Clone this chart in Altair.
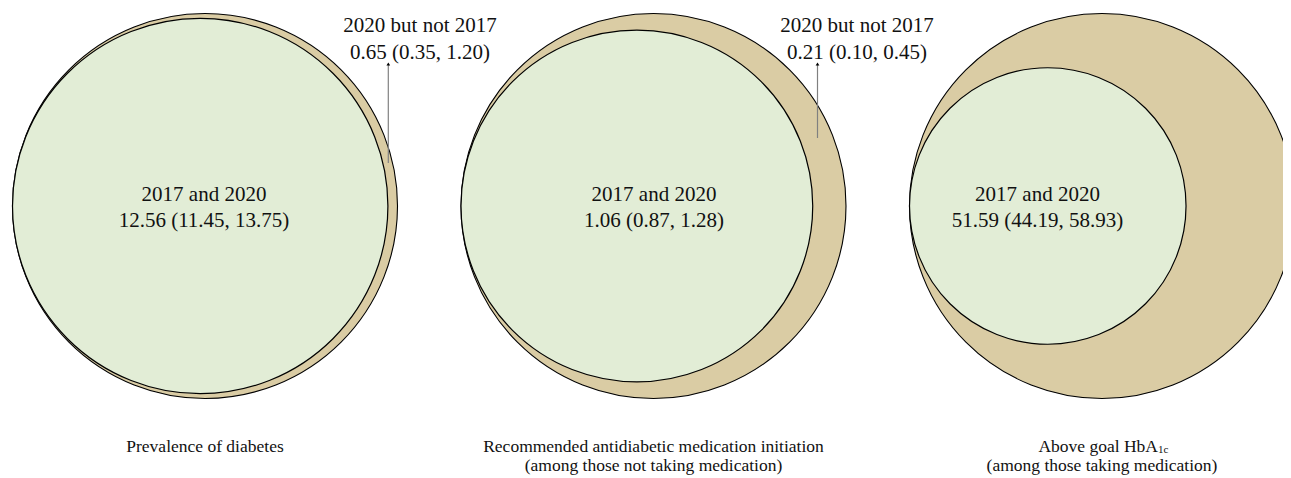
import math
import altair as alt
import pandas as pd

# ---------------- data ----------------
panel_line1 = ["Prevalence of diabetes",
               "Recommended antidiabetic medication initiation",
               "Above goal HbA"]
panel_line2 = ["", "(among those not taking medication)", "(among those taking medication)"]
panel_sub = ["", "", "1c"]

both_label = ["2017 and 2020", "2017 and 2020", "2017 and 2020"]
both_values = [12.56, 1.06, 51.59]
both_ci = ["(11.45, 13.75)", "(0.87, 1.28)", "(44.19, 58.93)"]

only_label = ["2020 but not 2017", "2020 but not 2017"]
only_values = [0.65, 0.21]
only_ci = ["(0.35, 1.20)", "(0.10, 0.45)"]

outer_totals = [13.21, 1.27, 100.00]

# ---------------- layout (page pixels) ----------------
CX0 = 205.0
SP = 448.5
CY = 206.0
R = 192.5
TAN = "#dacca4"
GREEN = "#e2edd6"
FONT = "Liberation Serif"
INK = "#111111"

center_dx = [-1.0, 0.5, -64.5]
only_dx = [215.0, 203.5]
arrow_dx = [183.3, 164.0]
arrow_bottom = [163.0, 138.0]
LINE1_Y, LINE2_Y = 452.0, 471.0

n = len(both_values)
outer_df = pd.DataFrame({
    "x": [CX0 + i * SP for i in range(n)],
    "y": [CY] * n,
    "share": [1.0] * n,
})
share = [b / t for b, t in zip(both_values, outer_totals)]
inner_df = pd.DataFrame({
    "x": [CX0 + i * SP - R + R * math.sqrt(s) for i, s in enumerate(share)],
    "y": [CY] * n,
    "share": share,
})

big_rows = []
for i in range(n):
    x = CX0 + i * SP + center_dx[i]
    big_rows.append({"x": x, "y": 200.7, "text": both_label[i]})
    big_rows.append({"x": x, "y": 226.7, "text": f"{both_values[i]:.2f} {both_ci[i]}"})
for i in range(len(only_values)):
    x = CX0 + i * SP + only_dx[i]
    big_rows.append({"x": x, "y": 32.3, "text": only_label[i]})
    big_rows.append({"x": x, "y": 59.0, "text": f"{only_values[i]:.2f} {only_ci[i]}"})
big_df = pd.DataFrame(big_rows)

small_rows = []
sub_rows = []
for i in range(n):
    x = CX0 + i * SP
    if panel_sub[i]:
        small_rows.append({"x": x + 56.0, "y": LINE1_Y, "text": panel_line1[i], "align": "right"})
        sub_rows.append({"x": x + 56.0, "y": LINE1_Y + 0.7, "text": panel_sub[i]})
    else:
        small_rows.append({"x": x, "y": LINE1_Y, "text": panel_line1[i], "align": "center"})
    if panel_line2[i]:
        small_rows.append({"x": x, "y": LINE2_Y, "text": panel_line2[i], "align": "center"})
small_df = pd.DataFrame(small_rows)
sub_df = pd.DataFrame(sub_rows)

arrow_df = pd.DataFrame({
    "x": [CX0 + i * SP + arrow_dx[i] for i in range(len(only_values))],
    "y": [65.0] * len(only_values),
    "y2": arrow_bottom,
    "head": [64.0] * len(only_values),
})

# ---------------- chart ----------------
W, H = 1275, 470
xs = alt.Scale(domain=[8, 8 + W], nice=False, zero=False)
ys = alt.Scale(domain=[8, 8 + H], nice=False, zero=False, reverse=True)
X = alt.X("x:Q", scale=xs, axis=None)
Y = alt.Y("y:Q", scale=ys, axis=None)
size_scale = alt.Scale(domain=[0, 1], range=[0, (2 * R) ** 2], zero=True)

outer = alt.Chart(outer_df).mark_point(
    shape="circle", filled=True, fill=TAN, stroke="black", strokeWidth=1.1, opacity=1
).encode(x=X, y=Y, size=alt.Size("share:Q", scale=size_scale, legend=None))

inner = alt.Chart(inner_df).mark_point(
    shape="circle", filled=True, fill=GREEN, stroke="black", strokeWidth=1.2, opacity=1
).encode(x=X, y=Y, size=alt.Size("share:Q", scale=size_scale, legend=None))

rules = alt.Chart(arrow_df).mark_rule(color="#808080", strokeWidth=1.2).encode(
    x=X, y=Y, y2="y2:Q"
)
heads = alt.Chart(arrow_df).mark_point(
    shape="triangle-up", filled=True, color="black", size=14, opacity=1
).encode(x=X, y=alt.Y("head:Q", scale=ys, axis=None))

big_txt = alt.Chart(big_df).mark_text(
    font=FONT, fontSize=21, color=INK, baseline="alphabetic", align="center"
).encode(x=X, y=Y, text="text:N")

small_c = alt.Chart(small_df).transform_filter(alt.datum.align == "center").mark_text(
    font=FONT, fontSize=17.5, color=INK, baseline="alphabetic", align="center"
).encode(x=X, y=Y, text="text:N")
small_r = alt.Chart(small_df).transform_filter(alt.datum.align == "right").mark_text(
    font=FONT, fontSize=17.5, color=INK, baseline="alphabetic", align="right"
).encode(x=X, y=Y, text="text:N")
sub_txt = alt.Chart(sub_df).mark_text(
    font=FONT, fontSize=11, color=INK, baseline="alphabetic", align="left"
).encode(x=X, y=Y, text="text:N")

chart = alt.layer(outer, inner, rules, heads, big_txt, small_c, small_r, sub_txt).properties(
    width=W, height=H, padding=0, background="white",
    autosize=alt.AutoSizeParams(type="none"),
).configure_view(stroke=None)

chart.save("out.html", embed_options={"renderer": "svg", "actions": False})
